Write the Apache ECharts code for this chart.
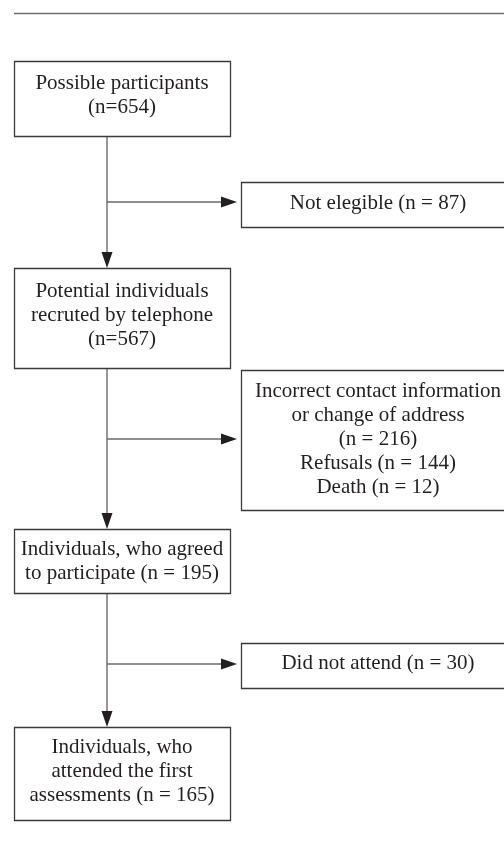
<!DOCTYPE html>
<html>
<head>
<meta charset="utf-8">
<script src="https://cdn.jsdelivr.net/npm/echarts@6/dist/echarts.min.js"></script>
<style>
  html, body { margin: 0; padding: 0; background: #fff; }
  #main { width: 504px; height: 862px; }
</style>
</head>
<body>
<div id="main"></div>
<script>
// flow boxes: label text, and box corners in page units [x1, y1, x2, y2]
var boxLabels = [
  'Possible participants\n(n=654)',
  'Not elegible (n = 87)',
  'Potential individuals\nrecruted by telephone\n(n=567)',
  'Incorrect contact information\nor change of address\n(n = 216)\nRefusals (n = 144)\nDeath (n = 12)',
  'Individuals, who agreed\nto participate (n = 195)',
  'Did not attend (n = 30)',
  'Individuals, who\nattended the first\nassessments (n = 165)'
];
var boxX1 = [14, 241, 14, 241, 14, 241, 14];
var boxY1 = [61, 182, 268, 370, 529, 643, 727];
var boxX2 = [230, 516, 230, 516, 230, 516, 230];
var boxY2 = [136, 227, 368, 510, 593, 688, 820];
var textShift = [-3, -1, -3, -1, 0, -2, -2];

// connectors: from [x, y] to arrow tip [x, y]
var arrowFrom = [[107, 136], [107, 202], [107, 368], [107, 439], [107, 593], [107, 664]];
var arrowTo   = [[107, 268], [237, 202], [107, 529], [237, 439], [107, 727], [237, 664]];

var boxData = boxLabels.map(function (t, i) {
  return [boxX1[i], boxY1[i], boxX2[i], boxY2[i], i];
});
var arrowData = arrowFrom.map(function (f, i) {
  return [f[0], f[1], arrowTo[i][0], arrowTo[i][1]];
});

var chart = echarts.init(document.getElementById('main'));
var font = '21px "Liberation Serif", "DejaVu Serif", serif';

chart.setOption({
  animation: false,
  backgroundColor: '#fff',
  grid: { left: 0, right: 0, top: 0, bottom: 0 },
  xAxis: { type: 'value', min: 0, max: 504, show: false },
  yAxis: { type: 'value', min: 0, max: 862, inverse: true, show: false },
  series: [
    {
      type: 'custom',
      clip: false,
      data: [[14, 13.5, 504, 13.5]],
      renderItem: function (params, api) {
        var a = api.coord([api.value(0), api.value(1)]);
        var b = api.coord([api.value(2), api.value(3)]);
        return {
          type: 'line',
          shape: { x1: a[0], y1: a[1], x2: b[0], y2: b[1] },
          style: { stroke: '#6d6d6d', lineWidth: 1.5 }
        };
      }
    },
    {
      type: 'custom',
      clip: false,
      data: arrowData,
      renderItem: function (params, api) {
        var a = api.coord([api.value(0), api.value(1)]);
        var b = api.coord([api.value(2), api.value(3)]);
        var dx = b[0] - a[0], dy = b[1] - a[1];
        var len = Math.sqrt(dx * dx + dy * dy);
        var ux = dx / len, uy = dy / len;
        var hl = 16, hw = 5.5;
        var bx = b[0] - ux * hl, by = b[1] - uy * hl;
        return {
          type: 'group',
          children: [
            {
              type: 'line',
              shape: { x1: a[0], y1: a[1], x2: bx, y2: by },
              style: { stroke: '#6a6a6a', lineWidth: 1.4 }
            },
            {
              type: 'polygon',
              shape: {
                points: [
                  [b[0], b[1]],
                  [bx - uy * hw, by + ux * hw],
                  [bx + uy * hw, by - ux * hw]
                ]
              },
              style: { fill: '#231f20' }
            }
          ]
        };
      }
    },
    {
      type: 'custom',
      clip: false,
      data: boxData,
      renderItem: function (params, api) {
        var a = api.coord([api.value(0), api.value(1)]);
        var b = api.coord([api.value(2), api.value(3)]);
        var i = api.value(4);
        var cx = (a[0] + b[0]) / 2, cy = (a[1] + b[1]) / 2 + textShift[i];
        if (boxX2[i] > 504) cx = 378;
        return {
          type: 'group',
          children: [
            {
              type: 'rect',
              shape: { x: a[0] + 0.5, y: a[1] + 0.5, width: b[0] - a[0], height: b[1] - a[1] },
              style: { fill: '#fff', stroke: '#3a3a3a', lineWidth: 1.3 }
            },
            {
              type: 'text',
              style: {
                text: boxLabels[i],
                x: cx,
                y: cy,
                align: 'center',
                verticalAlign: 'middle',
                font: font,
                lineHeight: 24,
                fill: '#231f20'
              }
            }
          ]
        };
      }
    }
  ]
});
</script>
</body>
</html>
